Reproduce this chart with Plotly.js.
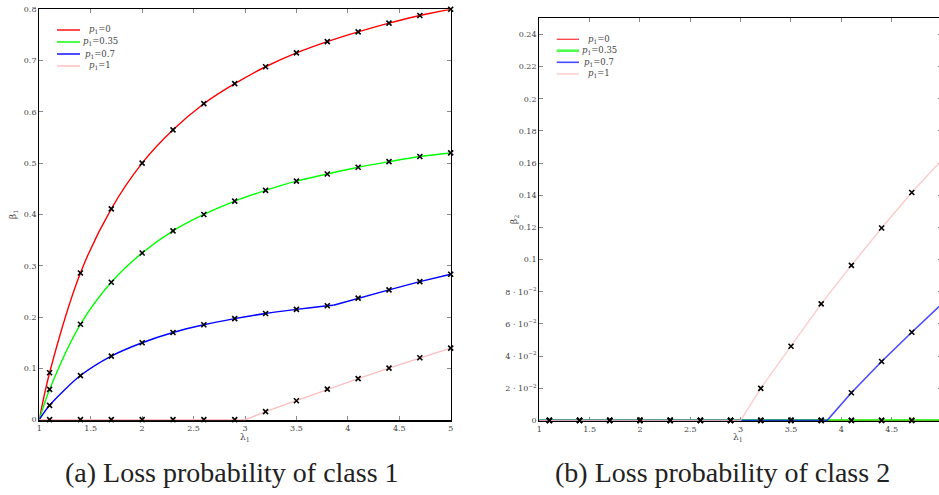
<!DOCTYPE html>
<html>
<head>
<meta charset="utf-8">
<script src="https://cdn.plot.ly/plotly-3.0.1.min.js"></script>
<style>
html,body{margin:0;padding:0;overflow:hidden;background:#fff;}
#chart{width:945px;height:495px;}
</style>
</head>
<body>
<div id="chart"></div>
<script>
// ---- data ----
const lambdaMarks = [1.1, 1.4, 1.7, 2.0, 2.3, 2.6, 2.9, 3.2, 3.5, 3.8, 4.1, 4.4, 4.7, 5.0];
const seriesNames = ['<i>p</i><sub>1</sub>=0', '<i>p</i><sub>1</sub>=0.35', '<i>p</i><sub>1</sub>=0.7', '<i>p</i><sub>1</sub>=1'];
const seriesColors = ['#ff0000', '#00ff00', '#0000ff', '#ffbfbf'];

// class 1 loss probability (beta_1)
const beta1_p0   = [0.0915, 0.286, 0.411, 0.500, 0.565, 0.616, 0.655, 0.688, 0.715, 0.737, 0.756, 0.773, 0.788, 0.800];
const beta1_p035 = [0.059, 0.186, 0.268, 0.325, 0.368, 0.400, 0.426, 0.447, 0.465, 0.479, 0.492, 0.503, 0.513, 0.520];
const beta1_p07  = [0.028, 0.086, 0.124, 0.150, 0.170, 0.185, 0.197, 0.207, 0.215, 0.222, 0.237, 0.253, 0.269, 0.2835];
const beta1_p1   = [0, 0, 0, 0, 0, 0, 0, 0.0156, 0.037, 0.0597, 0.080, 0.1006, 0.1207, 0.1395];
// curve start / break points
const curveStartX = 1, curveStartY = 0;
const blueKinkX1 = 3.86, blueKinkY1 = 0.223;
const pinkStartX = 3, pinkStartY = 0;

// class 2 loss probability (beta_2)
const beta2_p0   = [0, 0, 0, 0, 0, 0, 0, 0, 0, 0, 0, 0, 0, 0];
const beta2_p035 = [0, 0, 0, 0, 0, 0, 0, 0, 0, 0, 0, 0, 0, 0];
const beta2_p07  = [0, 0, 0, 0, 0, 0, 0, 0, 0, 0, 0.0172, 0.0366, 0.0548, 0.0725];
const beta2_p1   = [0, 0, 0, 0, 0, 0, 0, 0.0199, 0.0461, 0.0724, 0.0964, 0.1196, 0.1417, 0.162];
const blueKinkX2 = 3.86, blueKinkY2 = 0;

const xTickVals = [1, 1.5, 2, 2.5, 3, 3.5, 4, 4.5, 5];
const x2TickVals = [1, 1.5, 2, 2.5, 3, 3.5, 4, 4.5];
const y1TickVals = [0, 0.1, 0.2, 0.3, 0.4, 0.5, 0.6, 0.7, 0.8];
const y2TickVals = [0, 0.02, 0.04, 0.06, 0.08, 0.1, 0.12, 0.14, 0.16, 0.18, 0.2, 0.22, 0.24];
const y2TickText = ['0', '2 · 10<sup>−2</sup>', '4 · 10<sup>−2</sup>', '6 · 10<sup>−2</sup>', '8 · 10<sup>−2</sup>',
                    '0.1', '0.12', '0.14', '0.16', '0.18', '0.2', '0.22', '0.24'];
const captions = ['(a) Loss probability of class 1', '(b) Loss probability of class 2'];

// ---- traces ----
const W = 945, H = 495;
const traces = [];
function withStart(x0, y0, xs, ys) { return {x: [x0].concat(xs), y: [y0].concat(ys)}; }

// left panel
const r = withStart(curveStartX, curveStartY, lambdaMarks, beta1_p0);
traces.push({x: r.x, y: r.y, mode: 'lines', line: {color: seriesColors[0], width: 1.4, shape: 'spline', smoothing: 1}, name: seriesNames[0], xaxis: 'x', yaxis: 'y'});
const g = withStart(curveStartX, curveStartY, lambdaMarks, beta1_p035);
traces.push({x: g.x, y: g.y, mode: 'lines', line: {color: seriesColors[1], width: 1.4, shape: 'spline', smoothing: 1}, name: seriesNames[1], xaxis: 'x', yaxis: 'y'});
const iKink = lambdaMarks.indexOf(3.8);
const bA = withStart(curveStartX, curveStartY, lambdaMarks.slice(0, iKink + 1), beta1_p07.slice(0, iKink + 1));
traces.push({x: bA.x.concat([blueKinkX1]), y: bA.y.concat([blueKinkY1]), mode: 'lines', line: {color: seriesColors[2], width: 1.4, shape: 'spline', smoothing: 0.8}, name: seriesNames[2], xaxis: 'x', yaxis: 'y'});
traces.push({x: [blueKinkX1].concat(lambdaMarks.slice(iKink + 1)), y: [blueKinkY1].concat(beta1_p07.slice(iKink + 1)), mode: 'lines', line: {color: seriesColors[2], width: 1.4}, name: seriesNames[2], xaxis: 'x', yaxis: 'y'});
const iP = lambdaMarks.indexOf(3.2);
traces.push({x: [curveStartX].concat(lambdaMarks.slice(0, iP), [pinkStartX], lambdaMarks.slice(iP)),
             y: [curveStartY].concat(beta1_p1.slice(0, iP), [pinkStartY], beta1_p1.slice(iP)),
             mode: 'lines', line: {color: seriesColors[3], width: 1.4}, name: seriesNames[3], xaxis: 'x', yaxis: 'y'});
[beta1_p0, beta1_p035, beta1_p07, beta1_p1].forEach(function (ys) {
  traces.push({x: lambdaMarks, y: ys, mode: 'markers', cliponaxis: false, xaxis: 'x', yaxis: 'y',
    marker: {symbol: 'x-thin', size: 5, color: '#000', line: {color: '#000', width: 1.6}}});
});

// right panel
const op2 = 0.7;
const widths2 = [1.4, 2.6, 1.6, 1.4];
const opac2 = [op2, op2, op2, 0.8];
traces.push({x: [curveStartX].concat(lambdaMarks), y: [curveStartY].concat(beta2_p0), mode: 'lines', opacity: opac2[0], line: {color: seriesColors[0], width: widths2[0]}, name: seriesNames[0], xaxis: 'x2', yaxis: 'y2'});
traces.push({x: [curveStartX].concat(lambdaMarks), y: [curveStartY].concat(beta2_p035), mode: 'lines', opacity: opac2[1], line: {color: seriesColors[1], width: widths2[1]}, name: seriesNames[1], xaxis: 'x2', yaxis: 'y2'});
traces.push({x: [curveStartX].concat(lambdaMarks.slice(0, iKink + 1), [blueKinkX2], lambdaMarks.slice(iKink + 1)),
             y: [curveStartY].concat(beta2_p07.slice(0, iKink + 1), [blueKinkY2], beta2_p07.slice(iKink + 1)),
             mode: 'lines', opacity: opac2[2], line: {color: seriesColors[2], width: widths2[2]}, name: seriesNames[2], xaxis: 'x2', yaxis: 'y2'});
traces.push({x: [curveStartX].concat(lambdaMarks.slice(0, iP), [pinkStartX], lambdaMarks.slice(iP)),
             y: [curveStartY].concat(beta2_p1.slice(0, iP), [pinkStartY], beta2_p1.slice(iP)),
             mode: 'lines', opacity: opac2[3], line: {color: seriesColors[3], width: widths2[3]}, name: seriesNames[3], xaxis: 'x2', yaxis: 'y2'});
[beta2_p0, beta2_p035, beta2_p07, beta2_p1].forEach(function (ys) {
  traces.push({x: lambdaMarks, y: ys, mode: 'markers', cliponaxis: false, xaxis: 'x2', yaxis: 'y2',
    marker: {symbol: 'x-thin', size: 5, color: '#000', line: {color: '#000', width: 1.6}}});
});

// ---- layout ----
const serif = 'DejaVu Serif';
const tickFont = {family: serif, size: 8, color: '#444'};
function xAxis(domain, anchor, vals) {
  return {domain: domain, anchor: anchor, range: [1, 5], tickvals: vals, ticks: 'inside', ticklen: 4,
    tickcolor: '#888', tickwidth: 1, showline: true, linecolor: '#000', linewidth: 1.2, mirror: 'ticks',
    showgrid: false, zeroline: false, tickfont: tickFont, layer: 'below traces'};
}
function yAxis(domain, anchor, range, vals, text) {
  const a = {domain: domain, anchor: anchor, range: range, tickvals: vals, ticks: 'inside', ticklen: 4,
    tickcolor: '#888', tickwidth: 1, showline: true, linecolor: '#000', linewidth: 1.2, mirror: 'ticks',
    showgrid: false, zeroline: false, tickfont: tickFont, layer: 'below traces'};
  if (text) a.ticktext = text;
  return a;
}

// legend boxes (key lines + labels)
const shapes = [];
const annotations = [];
function addLegend(lineX0, lineX1, textX, rowsY, widths, opac) {
  for (let i = 0; i < seriesNames.length; i++) {
    shapes.push({type: 'line', xref: 'paper', yref: 'paper', x0: lineX0 / W, x1: lineX1 / W, y0: (H - rowsY[i]) / H, y1: (H - rowsY[i]) / H,
      line: {color: seriesColors[i], width: widths[i]}, opacity: opac[i]});
    annotations.push({text: seriesNames[i], xref: 'paper', yref: 'paper', x: textX / W, y: (H - rowsY[i]) / H,
      xanchor: 'center', yanchor: 'middle', showarrow: false, font: {family: serif, size: 8.5, color: '#444'}});
  }
}
addLegend(57, 80, 100, [30, 42, 54, 66], [1.4, 1.4, 1.4, 1.4], [1, 1, 1, 1]);
addLegend(556.7, 579, 599, [39.3, 50.7, 62.3, 74], widths2, opac2);

function addText(text, x, y, size, angle, color, family) {
  annotations.push({text: text, x: x / W, y: (H - y) / H, xref: 'paper', yref: 'paper', xanchor: 'center', yanchor: 'middle',
    showarrow: false, textangle: angle || 0, font: {family: family || serif, size: size, color: color || '#444'}});
}
addText('λ<sub>1</sub>', 245, 437, 9);
addText('λ<sub>1</sub>', 738, 437, 9);
addText('β<sub>1</sub>', 13, 215, 9, -90);
addText('β<sub>2</sub>', 514, 220, 9, -90);
addText(captions[0], 231.5, 472, 28, 0, '#222', 'Liberation Serif');
addText(captions[1], 722.5, 472, 28, 0, '#222', 'Liberation Serif');

const layout = {
  width: W, height: H,
  margin: {l: 0, r: 0, t: 0, b: 0},
  paper_bgcolor: '#fff', plot_bgcolor: '#fff',
  showlegend: false,
  xaxis: xAxis([39.3 / W, 450.7 / W], 'y', xTickVals),
  yaxis: yAxis([(H - 420.3) / H, (H - 9.3) / H], 'x', [-0.0012, 0.8], y1TickVals),
  xaxis2: xAxis([539.3 / W, 942 / W], 'y2', x2TickVals),
  yaxis2: yAxis([(H - 421) / H, (H - 18.3) / H], 'x2', [-0.0004, 0.25], y2TickVals, y2TickText),
  shapes: shapes,
  annotations: annotations
};
Plotly.newPlot('chart', traces, layout, {displayModeBar: false, staticPlot: true});
</script>
</body>
</html>
